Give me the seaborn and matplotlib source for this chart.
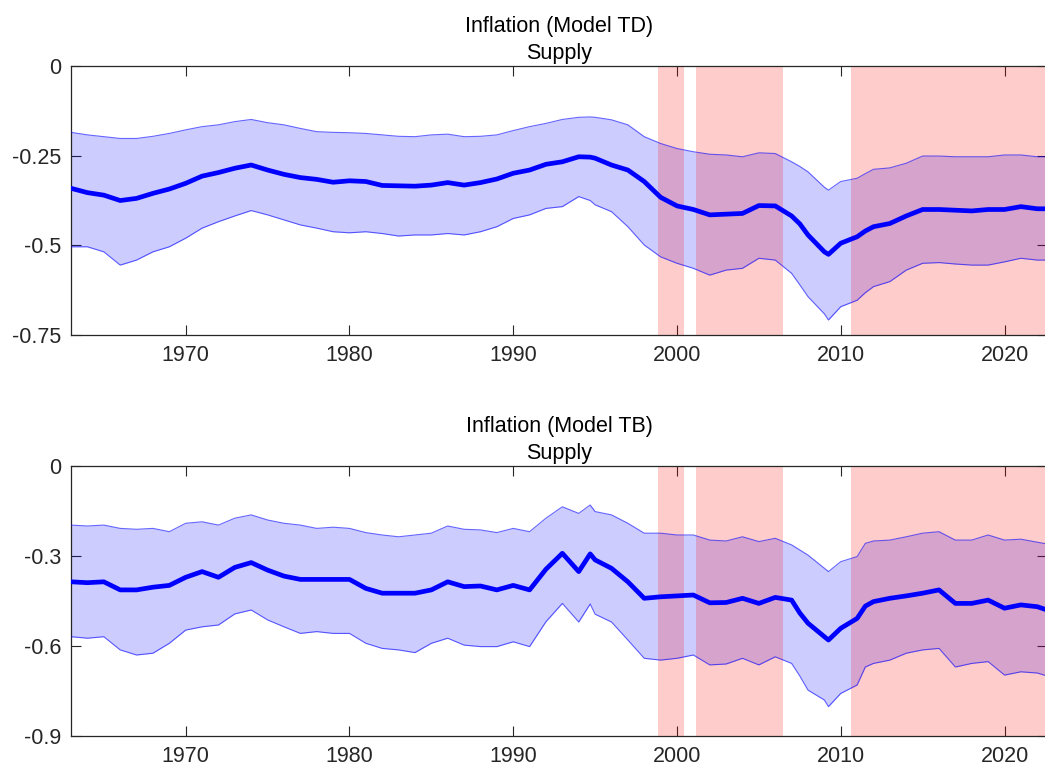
import numpy as np
import pandas as pd
import matplotlib
matplotlib.use("Agg")
import matplotlib.pyplot as plt
import seaborn as sns

# dates (fractional years)
dates = list(range(1963, 1995)) + [1994.7] + list(range(1995, 2008)) + \
    [2007.5, 2008, 2009, 2009.25, 2010, 2011, 2011.5] + list(range(2012, 2023)) + [2022.6]

# Model TD - supply
td_median = [-0.341, -0.353, -0.360, -0.375, -0.369, -0.355, -0.343, -0.327, -0.307, -0.297,
             -0.285, -0.276, -0.290, -0.302, -0.311, -0.316, -0.324, -0.320, -0.322, -0.333,
             -0.334, -0.335, -0.332, -0.325, -0.332, -0.325, -0.315, -0.299, -0.290, -0.274,
             -0.267, -0.253, -0.254, -0.257, -0.276, -0.290, -0.322, -0.366, -0.390, -0.400,
             -0.415, -0.413, -0.411, -0.389, -0.390, -0.418, -0.440, -0.471, -0.518, -0.525,
             -0.494, -0.476, -0.460, -0.448, -0.439, -0.418, -0.400, -0.400, -0.402, -0.404,
             -0.400, -0.400, -0.392, -0.398, -0.398]
td_upper = [-0.185, -0.192, -0.197, -0.202, -0.202, -0.196, -0.188, -0.178, -0.169, -0.164,
            -0.155, -0.149, -0.158, -0.164, -0.174, -0.183, -0.185, -0.186, -0.188, -0.192,
            -0.196, -0.197, -0.192, -0.190, -0.197, -0.196, -0.192, -0.180, -0.169, -0.160,
            -0.149, -0.143, -0.142, -0.143, -0.150, -0.164, -0.197, -0.216, -0.230, -0.239,
            -0.246, -0.248, -0.253, -0.242, -0.244, -0.267, -0.280, -0.295, -0.338, -0.346,
            -0.322, -0.313, -0.300, -0.288, -0.284, -0.271, -0.251, -0.251, -0.253, -0.253,
            -0.253, -0.248, -0.248, -0.253, -0.253]
td_lower = [-0.504, -0.504, -0.518, -0.555, -0.541, -0.518, -0.504, -0.480, -0.452, -0.434,
            -0.418, -0.403, -0.415, -0.429, -0.443, -0.452, -0.462, -0.465, -0.462, -0.467,
            -0.474, -0.471, -0.471, -0.467, -0.471, -0.462, -0.448, -0.425, -0.415, -0.397,
            -0.392, -0.364, -0.375, -0.387, -0.406, -0.448, -0.499, -0.532, -0.550, -0.564,
            -0.583, -0.569, -0.564, -0.536, -0.541, -0.578, -0.610, -0.643, -0.691, -0.708,
            -0.671, -0.653, -0.632, -0.615, -0.601, -0.569, -0.550, -0.548, -0.552, -0.555,
            -0.555, -0.546, -0.536, -0.541, -0.541]

# Model TB - supply
tb_median = [-0.386, -0.389, -0.386, -0.413, -0.413, -0.404, -0.398, -0.371, -0.352, -0.371,
             -0.338, -0.322, -0.347, -0.367, -0.378, -0.378, -0.378, -0.378, -0.408, -0.424,
             -0.424, -0.424, -0.413, -0.386, -0.402, -0.400, -0.413, -0.398, -0.413, -0.344,
             -0.291, -0.352, -0.293, -0.313, -0.341, -0.386, -0.441, -0.436, -0.433, -0.430,
             -0.456, -0.455, -0.441, -0.458, -0.438, -0.447, -0.490, -0.524, -0.569, -0.580,
             -0.541, -0.508, -0.467, -0.452, -0.441, -0.433, -0.424, -0.413, -0.458, -0.458,
             -0.447, -0.474, -0.463, -0.469, -0.480]
tb_upper = [-0.197, -0.200, -0.197, -0.208, -0.211, -0.208, -0.219, -0.191, -0.186, -0.197,
            -0.174, -0.163, -0.180, -0.191, -0.197, -0.208, -0.204, -0.208, -0.222, -0.230,
            -0.236, -0.230, -0.224, -0.200, -0.211, -0.213, -0.222, -0.208, -0.219, -0.174,
            -0.136, -0.158, -0.130, -0.152, -0.163, -0.191, -0.224, -0.224, -0.230, -0.230,
            -0.247, -0.250, -0.236, -0.252, -0.241, -0.263, -0.280, -0.297, -0.341, -0.352,
            -0.319, -0.302, -0.258, -0.250, -0.247, -0.236, -0.224, -0.219, -0.247, -0.247,
            -0.230, -0.247, -0.244, -0.254, -0.260]
tb_lower = [-0.569, -0.574, -0.569, -0.613, -0.630, -0.624, -0.591, -0.547, -0.536, -0.530,
            -0.493, -0.480, -0.513, -0.536, -0.558, -0.552, -0.558, -0.558, -0.591, -0.608,
            -0.613, -0.622, -0.591, -0.574, -0.597, -0.602, -0.602, -0.586, -0.602, -0.519,
            -0.458, -0.520, -0.460, -0.494, -0.520, -0.580, -0.641, -0.647, -0.641, -0.630,
            -0.663, -0.660, -0.641, -0.663, -0.636, -0.658, -0.700, -0.747, -0.780, -0.802,
            -0.758, -0.730, -0.670, -0.658, -0.647, -0.624, -0.613, -0.608, -0.670, -0.658,
            -0.652, -0.697, -0.686, -0.690, -0.700]

# shaded regimes
regime_start = [1998.85, 2001.15, 2010.6]
regime_end = [2000.45, 2006.45, 2023.0]

x_ticks = [1970, 1980, 1990, 2000, 2010, 2020]

panels = [
    ("Inflation (Model TD)\nSupply", td_median, td_upper, td_lower,
     [0, -0.25, -0.5, -0.75], ["0", "-0.25", "-0.5", "-0.75"]),
    ("Inflation (Model TB)\nSupply", tb_median, tb_upper, tb_lower,
     [0, -0.3, -0.6, -0.9], ["0", "-0.3", "-0.6", "-0.9"]),
]

sns.set_theme(style="white")
plt.rcParams['font.family'] = ['Liberation Sans', 'DejaVu Sans']

fig = plt.figure(figsize=(10.45, 7.72), dpi=100)
axes_rects = [[0.068, 0.566, 0.934, 0.3485], [0.068, 0.0466, 0.934, 0.3498]]
dark = "#262626"

for rect, (title, med, up, lo, yt, ytl) in zip(axes_rects, panels):
    ax = fig.add_axes(rect)
    df = pd.DataFrame({"date": dates, "median": med, "upper": up, "lower": lo})

    ax.fill_between(df["date"], df["lower"], df["upper"], color="blue", alpha=0.2,
                    linewidth=0, zorder=1)
    for s, e in zip(regime_start, regime_end):
        ax.axvspan(s, e, color="red", alpha=0.2, linewidth=0, zorder=2)
    sns.lineplot(data=df, x="date", y="upper", ax=ax, color="blue", alpha=0.6,
                 linewidth=0.8, zorder=3)
    sns.lineplot(data=df, x="date", y="lower", ax=ax, color="blue", alpha=0.6,
                 linewidth=0.8, zorder=3)
    sns.lineplot(data=df, x="date", y="median", ax=ax, color="blue", linewidth=3.4,
                 zorder=4)

    ax.set_xlim(1963.0, 2022.6)
    ax.set_ylim(yt[-1], 0)
    ax.set_xticks(x_ticks)
    ax.set_xticklabels([str(t) for t in x_ticks])
    ax.set_yticks(yt)
    ax.set_yticklabels(ytl)
    ax.set_xlabel("")
    ax.set_ylabel("")
    ax.tick_params(direction="in", length=7, width=0.8, color=dark, labelcolor=dark,
                   labelsize=15.5, top=True, right=True, bottom=True, left=True, pad=7)
    for sp in ax.spines.values():
        sp.set_color(dark)
        sp.set_linewidth(0.9)
        sp.set_visible(True)
    ax.set_title(title, fontsize=15.5, color="black", linespacing=1.35, pad=5)

fig.savefig("out.png", dpi=100, facecolor="white")
